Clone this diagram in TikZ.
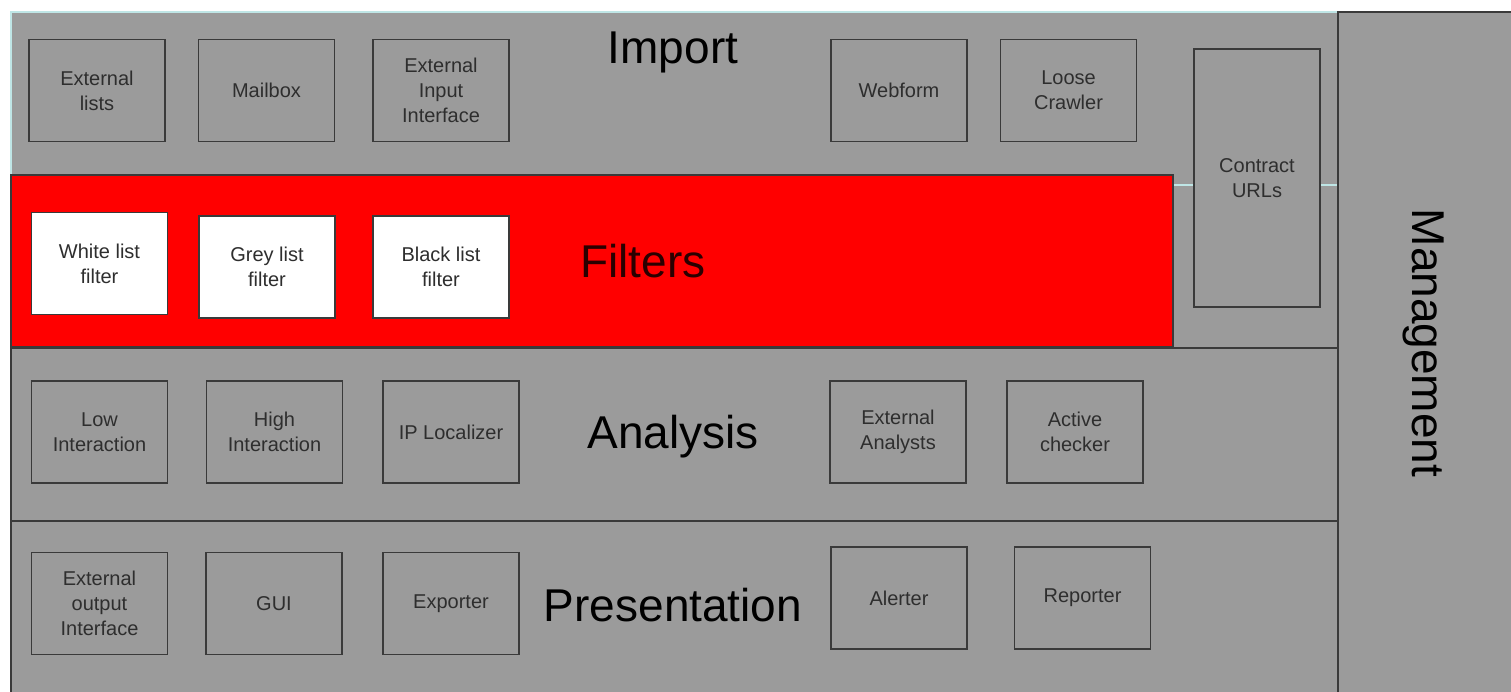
\documentclass[tikz,border=0pt]{standalone}
\usepackage{fontspec}
\setmainfont{Liberation Sans}
\begin{document}
\definecolor{panelgray}{HTML}{9B9B9B}
\definecolor{edgedark}{HTML}{3A3A3A}
\definecolor{edgecyan}{HTML}{BFE6E6}
\definecolor{labeltext}{HTML}{2E2E2E}
\definecolor{filterred}{HTML}{FF0000}
\definecolor{filterlabel}{HTML}{2A0000}
\begin{tikzpicture}[x=1pt,y=-1pt,
  panel/.style={fill=panelgray,draw=edgedark,line width=2pt},
  unit/.style={draw=edgedark,line width=1.8pt,fill=panelgray,
    minimum width=136pt,minimum height=102pt,inner sep=0pt,outer sep=0pt,
    align=center,text=labeltext,font=\fontsize{20}{25}\selectfont},
  whiteunit/.style={unit,fill=white},
  layertitle/.style={anchor=base,font=\fontsize{46}{50}\selectfont,text=black,inner sep=0pt}]

\useasboundingbox (0,0) rectangle (1511,691);
\fill[white] (0,0) rectangle (1511,691);

% Import layer (light edged) sits behind the filter band
\fill[panelgray] (11,12) rectangle (1338,348);
\draw[edgecyan,line width=2pt] (11,348) -- (11,12) -- (1338,12);

% Lower layers
\draw[panel] (11,348) rectangle (1338,521);
\draw[panel] (11,521) rectangle (1338,720);

% Management column on the right
\draw[panel] (1338,12) rectangle (1530,720);

% Filter band
\draw[fill=filterred,draw=edgedark,line width=2pt] (11,175) rectangle (1173,347);

% Light separator beside the filter band
\draw[edgecyan,line width=2pt] (1174,185) -- (1337,185);

% Layer titles
\node[layertitle] (timport) at (673,63) {Import};
\node[layertitle,text=filterlabel] (tfilters) at (643,277) {Filters};
\node[layertitle] (tanalysis) at (673,448) {Analysis};
\node[layertitle] (tpresent) at (673,621) {Presentation};
\node[layertitle,rotate=-90] (tmanage) at (1412,343) {Management};

% Import units
\node[unit] (extlists) at (97,90.5) {External\\lists};
\node[unit] (mailbox) at (266.5,90.5) {Mailbox};
\node[unit] (extinput) at (441,90.5) {External\\Input\\Interface};
\node[unit] (webform) at (899,90.5) {Webform};
\node[unit] (crawler) at (1068.5,90.5) {Loose\\Crawler};
\node[unit,minimum width=126pt,minimum height=258pt] (contract) at (1257,178) {Contract\\URLs};

% Filter units
\node[whiteunit] (whitelist) at (99.5,263.5) {White list\\filter};
\node[whiteunit] (greylist) at (267,267) {Grey list\\filter};
\node[whiteunit] (blacklist) at (441,267) {Black list\\filter};

% Analysis units
\node[unit] (lowint) at (99.5,432) {Low\\Interaction};
\node[unit] (highint) at (274.5,432) {High\\Interaction};
\node[unit] (iploc) at (451,432) {IP Localizer};
\node[unit] (extanalysts) at (898,432) {External\\Analysts};
\node[unit] (active) at (1075,432) {Active\\checker};

% Presentation units
\node[unit] (extout) at (99.5,603.5) {External\\output\\Interface};
\node[unit] (gui) at (274,603.5) {GUI};
\node[unit] (exporter) at (451,603.5) {Exporter};
\node[unit] (alerter) at (899,598) {Alerter};
\node[unit] (reporter) at (1082.5,598) {Reporter};
\end{tikzpicture}
\end{document}
